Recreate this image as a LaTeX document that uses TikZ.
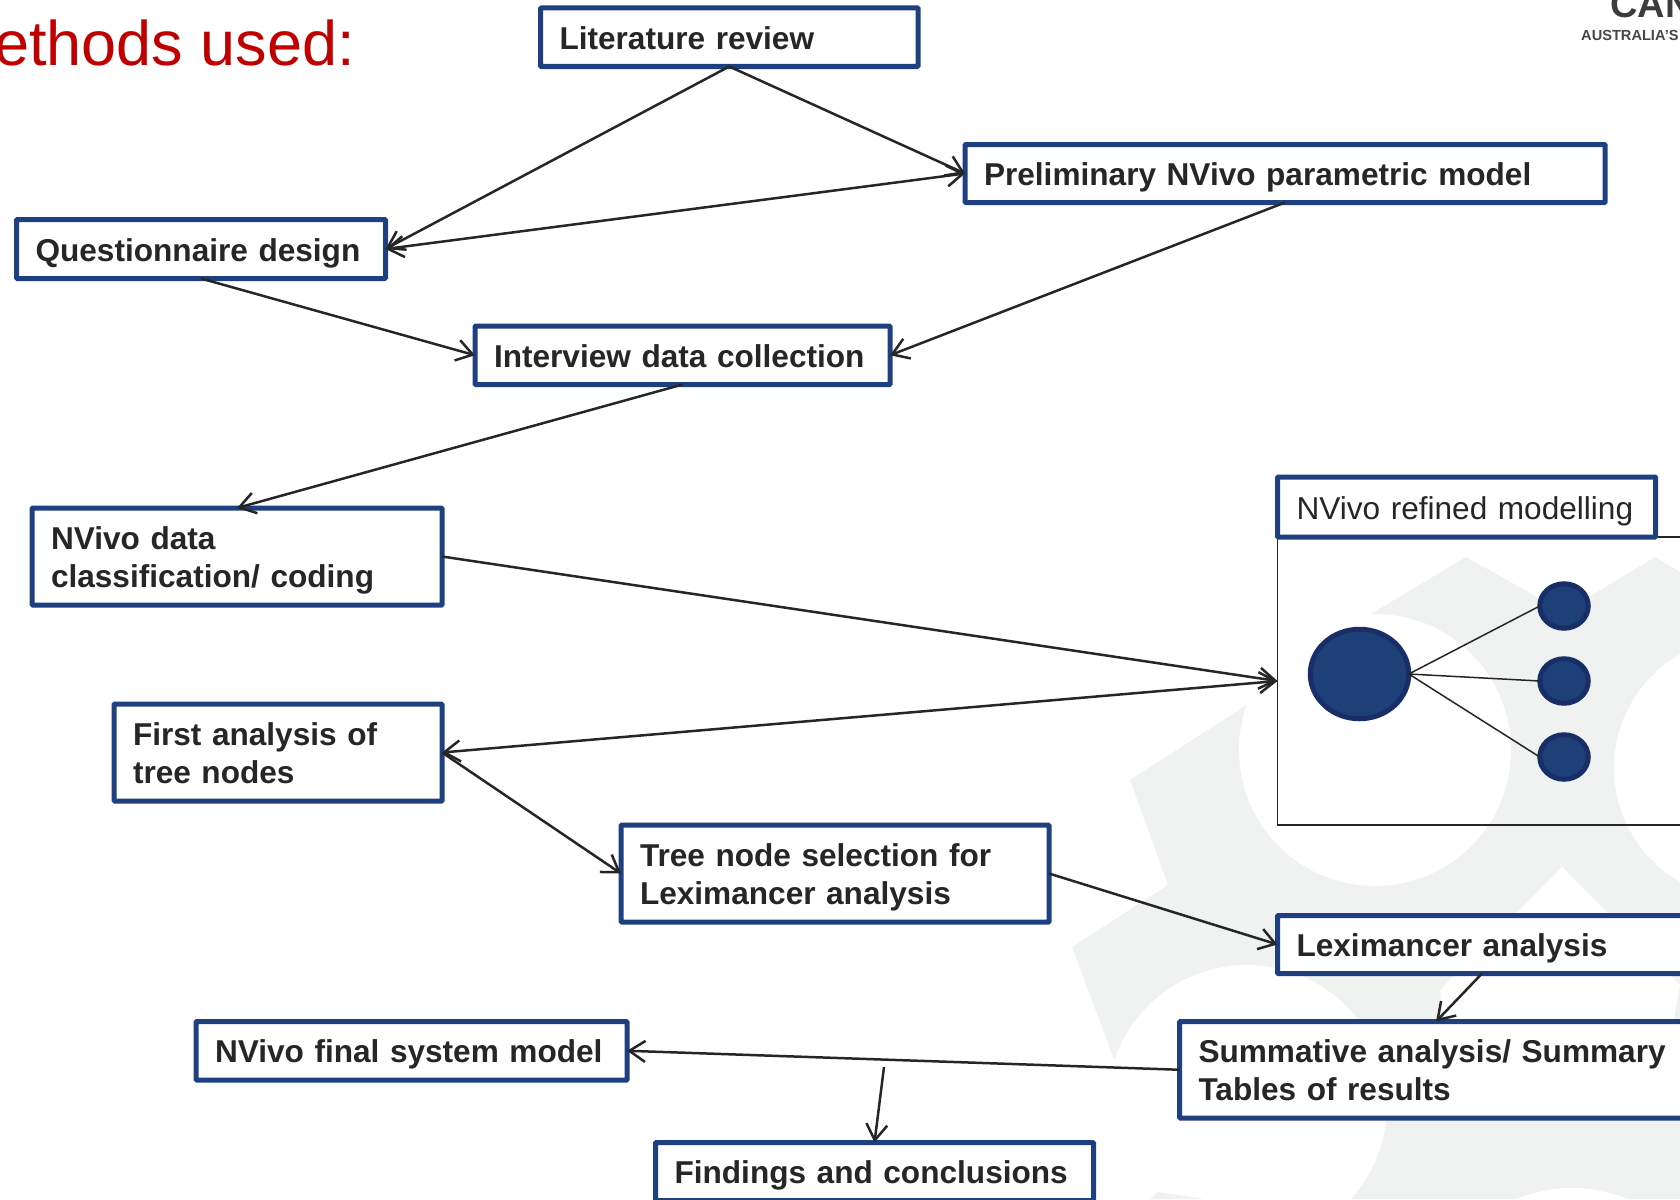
\documentclass[tikz,border=0pt]{standalone}
\usepackage{fontspec}
\setmainfont{Liberation Sans}
\usetikzlibrary{arrows.meta,shapes.geometric}
\definecolor{boxblue}{HTML}{1F4080}
\definecolor{nodeblue}{HTML}{1F3F78}
\definecolor{nodeedge}{HTML}{172E66}
\definecolor{inkdark}{HTML}{262626}
\definecolor{wmgray}{HTML}{F0F2F1}
\definecolor{titlered}{HTML}{C00000}
\tikzset{
  flowbox/.style={draw=boxblue,line width=5pt,fill=white,rectangle,rounded corners=0.8pt,outer sep=0pt,
    anchor=north west,inner xsep=19pt,inner ysep=0pt,align=left,text=inkdark,
    execute at begin node={\rule{0pt}{31pt}},execute at end node={\rule[-7pt]{0pt}{7pt}},
    font=\fontsize{31.6}{38.4}\selectfont\bfseries},
  plainbox/.style={flowbox,font=\fontsize{31.6}{38.4}\selectfont},
  size/.style 2 args={minimum width=#1pt,minimum height=#2pt,text width=#1pt-38pt},
  link/.style={draw=inkdark,line width=2.5pt,>={Straight Barb[length=16pt,width=21pt,line width=2.5pt]}},
  spoke/.style={draw=inkdark,line width=1.5pt},
  parent/.style={ellipse,draw=nodeedge,fill=nodeblue,line width=5pt,outer sep=0pt,inner sep=0pt},
  frame/.style={draw=inkdark,line width=1.5pt,rectangle,outer sep=0pt,inner sep=0pt,anchor=north west},
  title/.style={text=titlered,inner sep=0pt,anchor=base east,font=\fontsize{63}{63}\selectfont},
  logoa/.style={text=inkdark!90,inner sep=0pt,anchor=base west,font=\fontsize{38}{38}\selectfont\bfseries},
  logob/.style={text=inkdark!85,inner sep=0pt,anchor=base west,font=\fontsize{14.6}{15}\selectfont\bfseries}
}
\begin{document}
\begin{tikzpicture}[x=1pt,y=-1pt]
\useasboundingbox (0,0) rectangle (1680,1199);
% watermark
\fill[wmgray] (1072,947) -- (1168,885) -- (1130,780) -- (1245,706) -- (1369,615) -- (1466,557) -- (1564,612) -- (1655,557) -- (1680,572) -- (1680,1199) -- (1150,1199) -- (1117,1067) -- cycle;
\fill[white] (1375,750) circle[radius=136];
\fill[white] (1745,768) circle[radius=131];
\fill[white] (1247,1105) circle[radius=140];
\fill[white] (1572,1330) circle[radius=142];
\fill[white] (1562,867) -- (1440,990) -- (1445,1040) -- (1670,1040) -- (1680,985) -- cycle;
\fill[wmgray] (1157,1192) -- (1205,1199) -- (1150,1199) -- cycle;

% title and logo
\node[title] (ttl) at (355,66) {ethods used:};
\node[logoa] (lga) at (1610,18) {CAN};
\node[logob] (lgb) at (1581,41) {AUSTRALIA’S};

% frame with tree
\node[frame,minimum width=440pt,minimum height=288pt] (frm) at (1277.5,537) {};
\node[parent,minimum width=98.5pt,minimum height=89.5pt] (big) at (1359.5,674) {};
\node[parent,minimum width=48.5pt,minimum height=44.5pt] (s1) at (1564,606) {};
\node[parent,minimum width=48.5pt,minimum height=44.5pt] (s2) at (1564,681) {};
\node[parent,minimum width=48.5pt,minimum height=44.5pt] (s3) at (1564,757) {};
\draw[spoke] (big.east) -- (s1.west);
\draw[spoke] (big.east) -- (s2.west);
\draw[spoke] (big.east) -- (s3.west);

% boxes
\node[flowbox,size={377.5}{58.5}] (lit) at (540.5,8) {Literature review};
\node[flowbox,size={640}{58}] (pre) at (965,144.5) {Preliminary NVivo parametric model};
\node[flowbox,size={369}{59}] (que) at (16.5,219.5) {Questionnaire design};
\node[flowbox,size={415}{58.5}] (int) at (475,326) {Interview data collection};
\node[flowbox,size={410}{97}] (cod) at (32,508) {NVivo data\\classification/ coding};
\node[plainbox,size={378}{60}] (ref) at (1277.5,477) {NVivo refined modelling};
\node[flowbox,size={328}{97}] (fir) at (114,704) {First analysis of\\tree nodes};
\node[flowbox,size={428}{97}] (tre) at (621,825) {Tree node selection for\\Leximancer analysis};
\node[flowbox,size={409}{58}] (lex) at (1277.5,915.5) {Leximancer analysis};
\node[flowbox,size={513}{96.5}] (sum) at (1179.5,1021.5) {Summative analysis/ Summary\\Tables of results};
\node[flowbox,size={431}{58.5}] (fin) at (196,1021.5) {NVivo final system model};
\node[flowbox,size={438}{58}] (con) at (655.5,1142.5) {Findings and conclusions};
\coordinate (drop) at (884,1067);
\coordinate (sumtop) at (1436,1021.5);

% connectors
\draw[link,->] (lit.south) -- (que.east);
\draw[link,->] (lit.south) -- (pre.west);
\draw[link,<->] (que.east) -- (pre.west);
\draw[link,->] (que.south) -- (int.west);
\draw[link,->] (pre.south) -- (int.east);
\draw[link,->] (int.south) -- (cod.north);
\draw[link,->] (cod.east) -- (frm.west);
\draw[link,<->] (fir.east) -- (frm.west);
\draw[link,->] (fir.east) -- (tre.west);
\draw[link,->] (tre.east) -- (lex.west);
\draw[link,->] (lex.south) -- (sumtop);
\draw[link,->] (sum.west) -- (fin.east);
\draw[link,->] (drop) -- (con.north);
\end{tikzpicture}
\end{document}
